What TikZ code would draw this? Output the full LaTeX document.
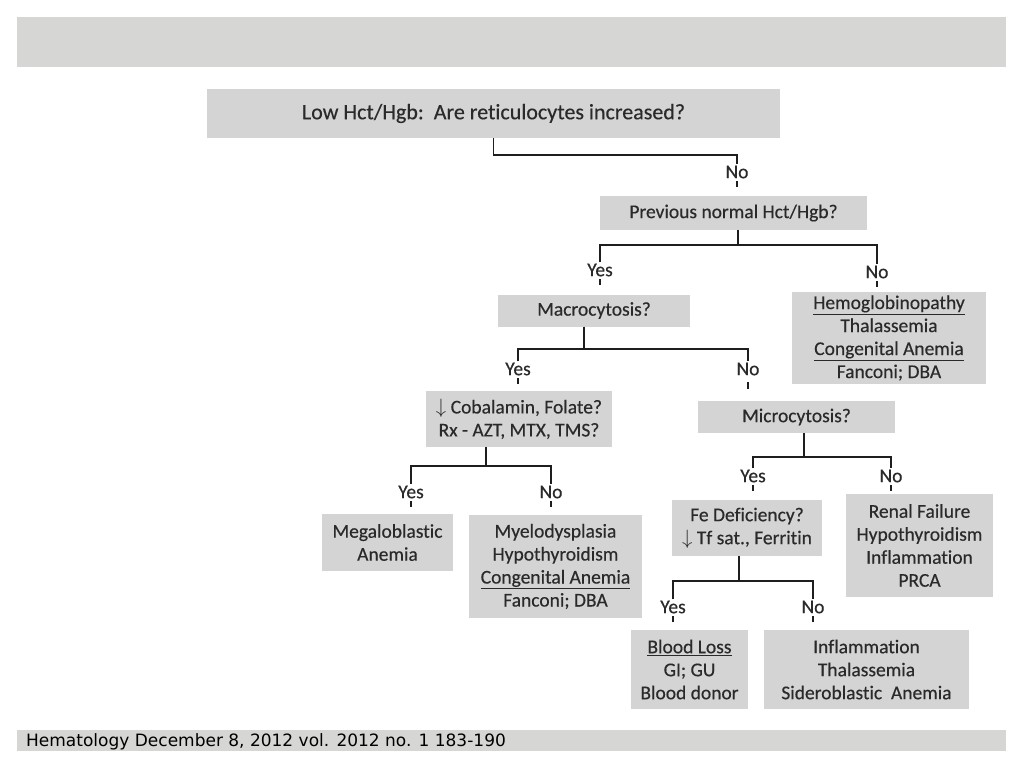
\documentclass[tikz,border=0pt]{standalone}
\usepackage{fontspec}
\setmainfont{Carlito}[Ligatures=NoCommon, FakeBold=0.4, BoldFont=Carlito]
\newfontfamily\reffont{DejaVu Sans}
\usetikzlibrary{calc}
\definecolor{boxgray}{HTML}{D4D4D4}
\definecolor{txt}{HTML}{2A2A2A}
\definecolor{barg}{HTML}{D6D6D4}
\definecolor{linec}{HTML}{1E1E1E}
\begin{document}
\begin{tikzpicture}[x=1pt,y=-1pt,
  box/.style={fill=boxgray, draw=none, text=txt, align=center, inner sep=0pt,
              font=\fontsize{19.5}{23}\selectfont},
  lbl/.style={text=txt, inner sep=1pt, font=\fontsize{19.5}{23}\selectfont},
  conn/.style={draw=linec, line width=1.8pt}]
\useasboundingbox (0,0) rectangle (1024,768);
% bars
\fill[barg] (17,17) rectangle (1006,67);
\fill[barg] (17,730) rectangle (1006,751);
\node[anchor=base west, inner sep=0pt, text=black, font=\reffont\fontsize{17}{20}\selectfont] (cite) at (26,746)
  {Hematology December 8, 2012 vol. 2012 no. 1 183-190};

% boxes
\node[box, minimum width=573, minimum height=49, font=\fontsize{22}{26}\selectfont] (top) at (493.5,113.5) {Low Hct/Hgb:\ \ Are reticulocytes increased?};
\node[box, minimum width=267, minimum height=34] (prev) at (733.5,213) {Previous normal Hct/Hgb?};
\node[box, minimum width=192, minimum height=32] (macro) at (594,310.5) {Macrocytosis?};
\node[box, minimum width=194, minimum height=92] (hemo) at (889,338) {\underline{Hemoglobinopathy}\\Thalassemia\\\underline{Congenital Anemia}\\Fanconi; DBA};
\node[box, minimum width=186, minimum height=56] (cobal) at (519,419) {$\downarrow$ Cobalamin, Folate?\\Rx - AZT, MTX, TMS?};
\node[box, minimum width=197, minimum height=32] (micro) at (796.5,417) {Microcytosis?};
\node[box, minimum width=131, minimum height=57] (mega) at (387.5,542.5) {Megaloblastic\\Anemia};
\node[box, minimum width=173, minimum height=103] (myelo) at (555.5,566.5) {Myelodysplasia\\Hypothyroidism\\\underline{Congenital Anemia}\\Fanconi; DBA};
\node[box, minimum width=150, minimum height=56] (fe) at (747,528) {Fe Deficiency?\\$\downarrow$ Tf sat., Ferritin};
\node[box, minimum width=147, minimum height=103] (renal) at (919.5,545.5) {Renal Failure\\Hypothyroidism\\Inflammation\\PRCA};
\node[box, minimum width=117, minimum height=79] (blood) at (689.5,669.5) {\underline{Blood Loss}\\GI; GU\\Blood donor};
\node[box, minimum width=205, minimum height=79] (infl) at (866.5,669.5) {Inflammation\\Thalassemia\\Sideroblastic\ \ Anemia};

% labels
\node[lbl] (no1) at (737,172) {No};
\node[lbl] (yes2) at (600,270) {Yes};
\node[lbl] (no2) at (877,272) {No};
\node[lbl] (yes3) at (518,369) {Yes};
\node[lbl] (no3) at (748,369) {No};
\node[lbl] (yes4) at (411,492) {Yes};
\node[lbl] (no4) at (551,492) {No};
\node[lbl] (yes5) at (753,476) {Yes};
\node[lbl] (no5) at (891,476) {No};
\node[lbl] (yes6) at (673,607) {Yes};
\node[lbl] (no6) at (813,607) {No};

% connectors
\draw[conn] (top.south) -- ++(0,17) -| (no1.north);
\draw[conn] (no1.base) ++(0,3) -- ++(0,6);

\draw[conn] ([xshift=4.5pt]prev.south) -- ++(0,15) coordinate (b2);
\draw[conn] (yes2.north) |- (b2) -| (no2.north);
\draw[conn] (yes2.base) ++(0,3) -- ++(0,6);
\draw[conn] (no2.base) ++(0,3) -- ++(0,6);

\draw[conn] ([xshift=-10pt]macro.south) -- ++(0,22) coordinate (b3);
\draw[conn] (yes3.north) |- (b3) -| (no3.north);
\draw[conn] (yes3.base) ++(0,3) -- ++(0,6);
\draw[conn] (no3.base) ++(0,7) -- ++(0,7);

\draw[conn] ([xshift=-33pt]cobal.south) -- ++(0,19) coordinate (b4);
\draw[conn] (yes4.north) |- (b4) -| (no4.north);
\draw[conn] (yes4.base) ++(0,3) -- ++(0,6);
\draw[conn] (no4.base) ++(0,3) -- ++(0,6);

\draw[conn] ([xshift=7.5pt]micro.south) -- ++(0,24) coordinate (b5);
\draw[conn] (yes5.north) |- (b5) -| (no5.north);
\draw[conn] (yes5.base) ++(0,3) -- ++(0,6);
\draw[conn] (no5.base) ++(0,3) -- ++(0,6);

\draw[conn] ([xshift=-8pt]fe.south) -- ++(0,25) coordinate (b6);
\draw[conn] (yes6.north) |- (b6) -| (no6.north);
\draw[conn] (yes6.base) ++(0,3) -- ++(0,6);
\draw[conn] (no6.base) ++(0,3) -- ++(0,6);
\end{tikzpicture}
\end{document}
